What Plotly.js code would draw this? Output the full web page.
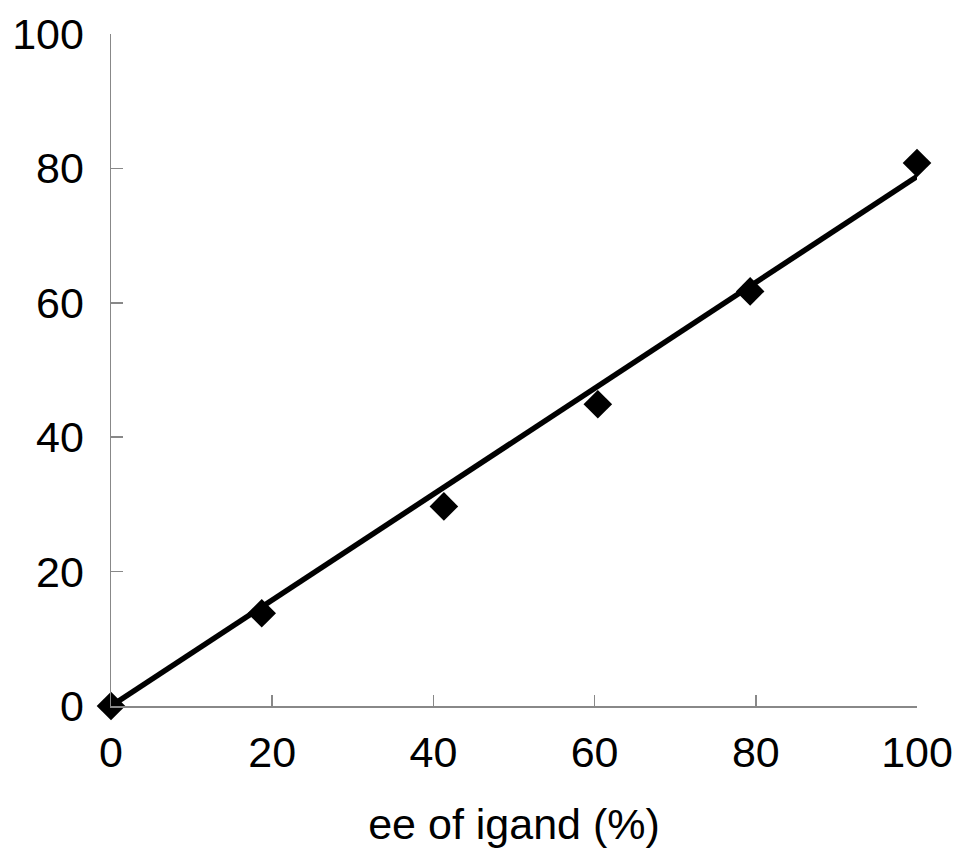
<!DOCTYPE html>
<html>
<head>
<meta charset="utf-8">
<script src="https://cdn.plot.ly/plotly-3.0.1.min.js"></script>
<style>html,body{margin:0;padding:0;background:#fff;}#chart{width:960px;height:848px;}</style>
</head>
<body>
<div id="chart"></div>
<script>
// Measured points: ee of ligand (%) vs product ee
const eeLigand = [0, 18.7, 41.3, 60.4, 79.3, 100];
const eeProduct = [0, 13.8, 29.7, 44.9, 61.7, 80.8];
// Trend line endpoints
const fitX = [0, 100];
const fitY = [0, 78.8];
const xTicks = [0, 20, 40, 60, 80, 100];
const yTicks = [0, 20, 40, 60, 80, 100];
const xTitle = 'ee of igand (%)';

const font = 'Liberation Sans, Arial, Helvetica, sans-serif';

const traces = [
  {
    x: fitX, y: fitY, mode: 'lines', type: 'scatter',
    line: {color: '#000', width: 5.5}, cliponaxis: false, hoverinfo: 'skip'
  },
  {
    x: eeLigand, y: eeProduct, mode: 'markers', type: 'scatter',
    marker: {symbol: 'diamond', size: 22, color: '#000'}, cliponaxis: false
  }
];

const layout = {
  width: 960, height: 848,
  margin: {l: 111, r: 43, t: 34, b: 142},
  paper_bgcolor: '#fff', plot_bgcolor: '#fff',
  showlegend: false,
  font: {family: font, color: '#000', size: 43},
  xaxis: {
    range: [0, 100], tickvals: xTicks, ticktext: xTicks.map(String),
    showline: true, linecolor: '#888', linewidth: 1.5,
    ticks: 'inside', ticklen: 11, tickwidth: 1.5, tickcolor: '#888',
    showgrid: false, zeroline: false,
    tickfont: {family: font, size: 43, color: '#000'},
    ticklabelstandoff: 8,
    title: {text: xTitle, font: {family: font, size: 43, color: '#000'}, standoff: 34}
  },
  yaxis: {
    range: [0, 100], tickvals: yTicks, ticktext: yTicks.map(String),
    showline: true, linecolor: '#888', linewidth: 1.5,
    ticks: 'inside', ticklen: 12, tickwidth: 1.5, tickcolor: '#888',
    showgrid: false, zeroline: false,
    tickfont: {family: font, size: 43, color: '#000'},
    ticklabelstandoff: 17
  }
};

Plotly.newPlot('chart', traces, layout, {displayModeBar: false, staticPlot: true});
</script>
</body>
</html>
